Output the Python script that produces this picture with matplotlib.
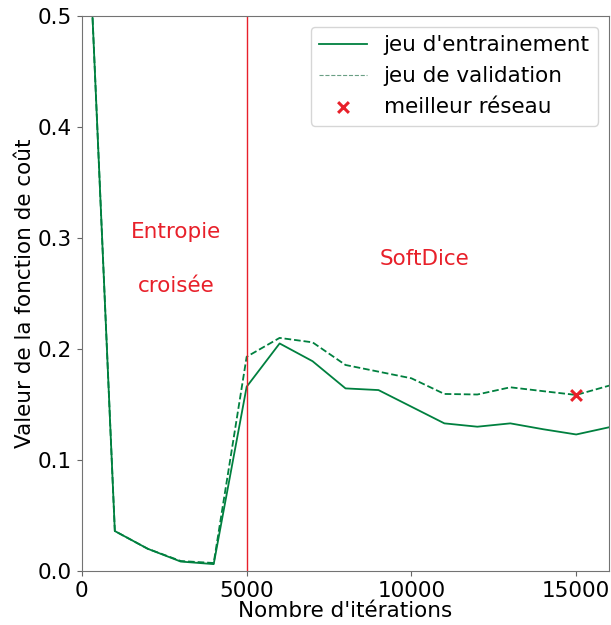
import numpy as np
import matplotlib.pyplot as plt

# training curves, one point every 1000 iterations
iterations = np.arange(0, 17000, 1000)
train_loss = [0.72, 0.036, 0.020, 0.0085, 0.0062, 0.166, 0.205, 0.189, 0.1645,
              0.163, 0.148, 0.133, 0.130, 0.133, 0.1277, 0.123, 0.1295]
val_loss = [0.72, 0.036, 0.020, 0.009, 0.0072, 0.193, 0.210, 0.206, 0.1856,
            0.1796, 0.1736, 0.1595, 0.159, 0.1655, 0.162, 0.1586, 0.167]
best_iter = 15000
best_loss = 0.1586
switch_iter = 5000

green = '#00803f'
red = '#e8202a'
fs = 15.5

fig = plt.figure(figsize=(6.11, 6.25), dpi=100)
ax = fig.add_axes([0.134, 0.0864, 0.863, 0.888])

ax.plot(iterations, train_loss, color=green, lw=1.3, label="jeu d'entrainement")
ax.plot(iterations, val_loss, color=green, lw=1.3, ls='--', label="jeu de validation")
ax.scatter([best_iter], [best_loss], marker='x', s=60, color=red, lw=2.2,
           zorder=5, label="meilleur réseau")
ax.axvline(switch_iter, color=red, lw=1)

ax.text(2850, 0.305, "Entropie", color=red, fontsize=fs, ha='center', va='center')
ax.text(2850, 0.257, "croisée", color=red, fontsize=fs, ha='center', va='center')
ax.text(10400, 0.281, "SoftDice", color=red, fontsize=fs, ha='center', va='center')

ax.set_xlim(0, 16000)
ax.set_ylim(0, 0.5)
ax.set_xticks([0, 5000, 10000, 15000])
ax.set_yticks([0.0, 0.1, 0.2, 0.3, 0.4, 0.5])
ax.tick_params(labelsize=fs, color='0.4')
for s in ax.spines.values():
    s.set_color('0.45')

ax.set_xlabel("Nombre d'itérations", fontsize=fs, labelpad=0)
ax.set_ylabel("Valeur de la fonction de coût", fontsize=fs, labelpad=2)

leg = ax.legend(loc='upper right', fontsize=fs, handlelength=2.2)
# thin, light dashed sample for the validation entry
leg.get_lines()[1].set_linewidth(0.8)
leg.get_lines()[1].set_color('#6a9f84')

fig.savefig("out.png", dpi=100)
